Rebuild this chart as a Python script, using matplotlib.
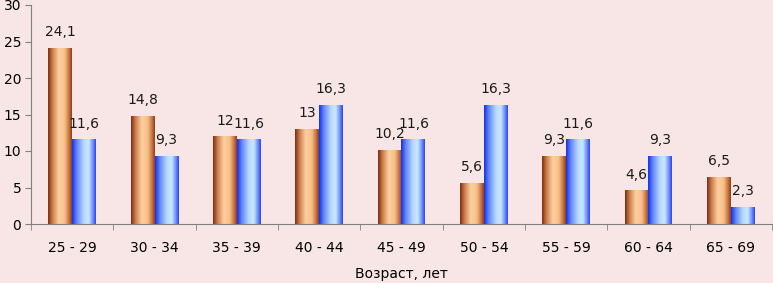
import numpy as np
import matplotlib
matplotlib.use("Agg")
import matplotlib.pyplot as plt
from matplotlib.colors import LinearSegmentedColormap

categories = ["25 - 29", "30 - 34", "35 - 39", "40 - 44", "45 - 49",
              "50 - 54", "55 - 59", "60 - 64", "65 - 69"]
series_a = [24.1, 14.8, 12, 13, 10.2, 5.6, 9.3, 4.6, 6.5]
series_b = [11.6, 9.3, 11.6, 16.3, 11.6, 16.3, 11.6, 9.3, 2.3]

bg = "#f8e6e6"
cmap_a = LinearSegmentedColormap.from_list(
    "a", [(0, "#7a2e10"), (0.2, "#d08050"), (0.45, "#fcd0a0"), (0.7, "#f8c088"), (0.9, "#c06a38"), (1, "#8a3a18")])
cmap_b = LinearSegmentedColormap.from_list(
    "b", [(0, "#1a2ae8"), (0.2, "#6088f8"), (0.5, "#b8d8ff"), (0.7, "#c8e8ff"), (0.9, "#6080f8"), (1, "#2a40f0")])

fig = plt.figure(figsize=(7.73, 2.83), dpi=100, facecolor=bg)
ax = fig.add_axes([31 / 773, 1 - 224 / 283, (772 - 31) / 773, (224 - 5) / 283])
ax.set_facecolor(bg)

x = np.arange(len(categories))
w = 0.29
grad = np.linspace(0, 1, 256).reshape(1, -1)

def draw(vals, offset, cmap):
    bars = ax.bar(x + offset, vals, w, color="none", edgecolor="none")
    for r, v in zip(bars, vals):
        x0, y0 = r.get_x(), r.get_y()
        im = ax.imshow(grad, cmap=cmap, aspect="auto", interpolation="bicubic",
                       extent=(x0, x0 + r.get_width(), y0, y0 + r.get_height()), zorder=2)
        im.set_clip_path(r)
        ax.text(r.get_x() + r.get_width() / 2, v + 1.2, f"{v:g}".replace(".", ","),
                ha="center", va="bottom", fontsize=10, color="#1a1a1a")

draw(series_a, -w / 2, cmap_a)
draw(series_b, w / 2, cmap_b)

ax.set_xlim(-0.5, len(categories) - 0.5)
ax.set_ylim(0, 30)
ax.set_yticks(range(0, 31, 5))
ax.set_xticks(x)
ax.set_xticklabels(categories, fontsize=10)
ax.set_xticks(np.arange(-0.5, len(categories), 1), minor=True)
ax.tick_params(axis="x", which="major", length=0, pad=12)
ax.tick_params(axis="x", which="minor", length=4, color="#808080")
ax.tick_params(axis="y", length=4, color="#808080", labelsize=10, pad=3)
for s in ["top", "right"]:
    ax.spines[s].set_visible(False)
for s in ["left", "bottom"]:
    ax.spines[s].set_color("#808080")
ax.set_xlabel("Возраст, лет", fontsize=10, labelpad=9)

fig.savefig("out.png", dpi=100, facecolor=bg)
